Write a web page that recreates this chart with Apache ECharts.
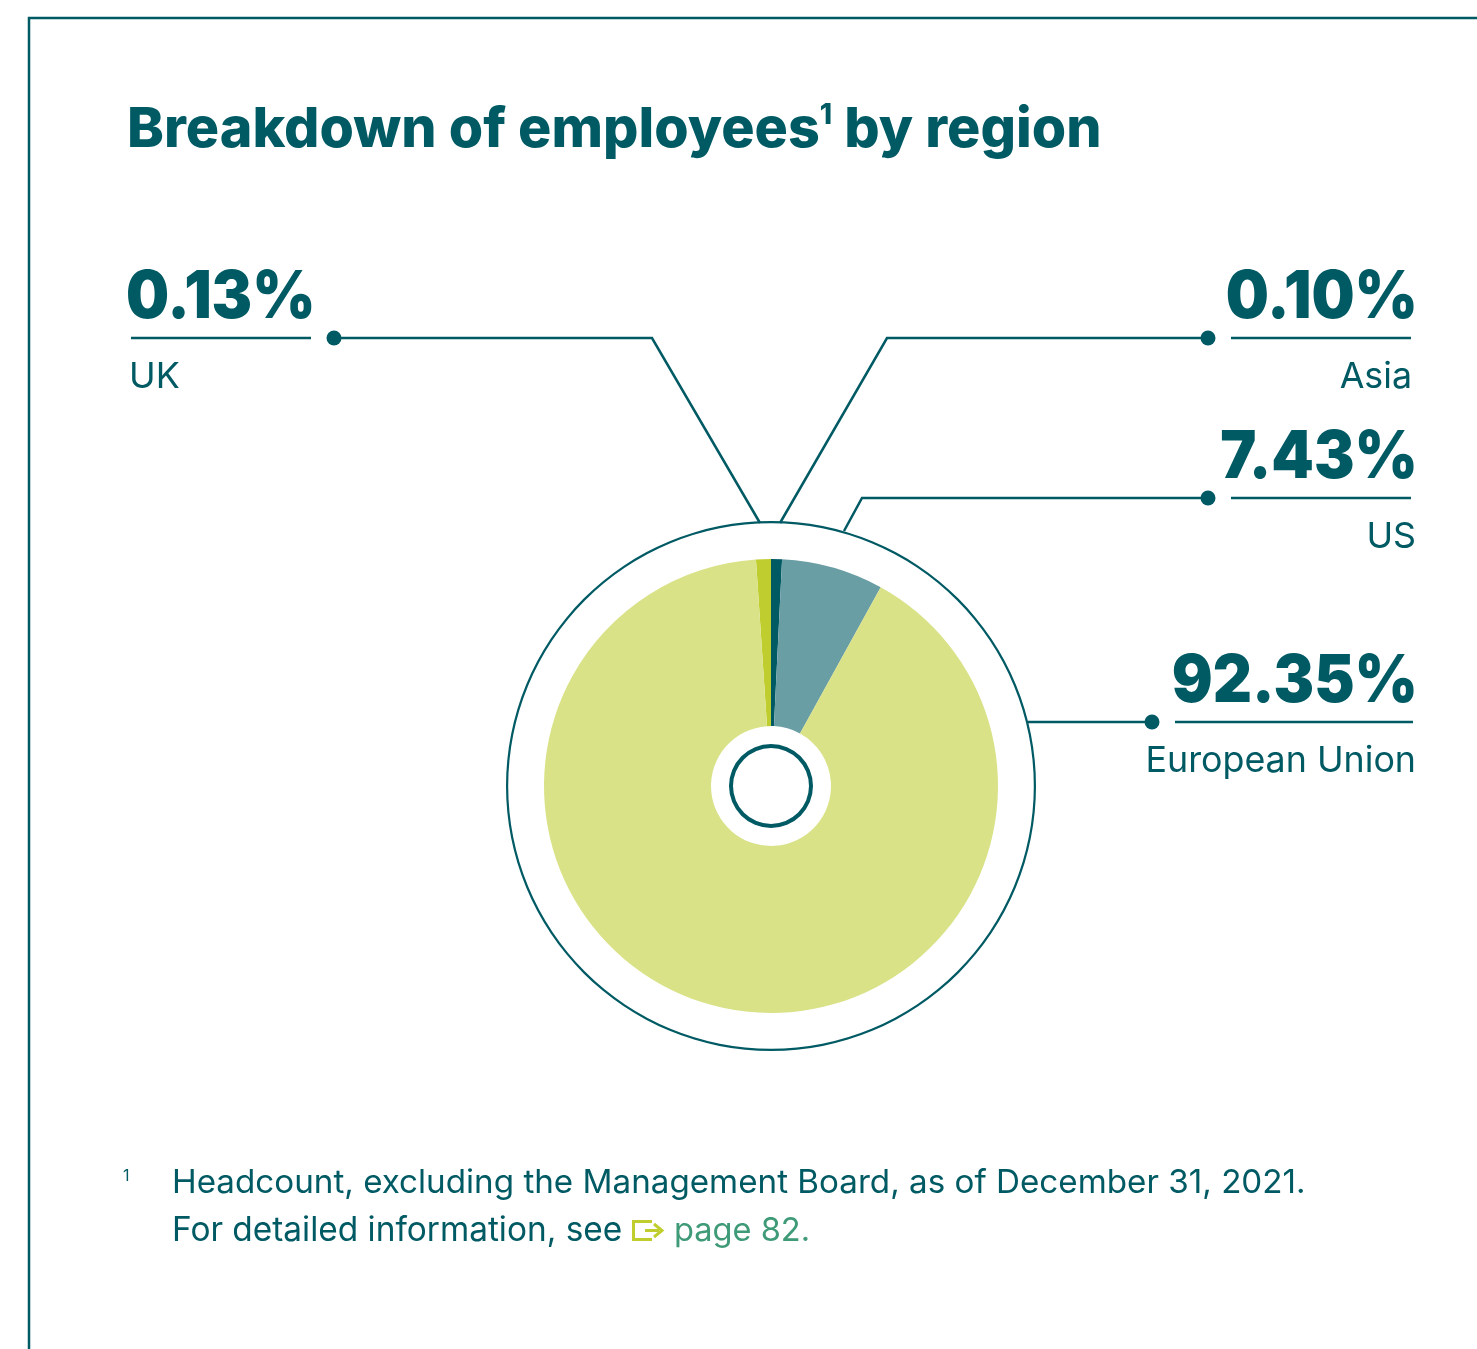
<!DOCTYPE html>
<html>
<head>
<meta charset="utf-8">
<title>Breakdown of employees by region</title>
<script src="https://cdn.jsdelivr.net/npm/echarts@6/dist/echarts.min.js"></script>
<style>
  html, body { margin: 0; padding: 0; background: #fff; }
  #chart { width: 1477px; height: 1349px; }
</style>
</head>
<body>
<div id="chart"></div>
<script>
var regionNames = ['UK', 'Asia', 'US', 'European Union'];
var regionLabels = ['0.13%', '0.10%', '7.43%', '92.35%'];
var sliceDegrees = [3.8, 2.8, 26.1, 327.3];

var dark = '#005a64';
var sliceColors = ['#bfce2e', dark, '#6a9ea5', '#d9e286'];
var font = 'Inter';

var dom = document.getElementById('chart');
var chart = echarts.init(dom, null, { width: 1477, height: 1349 });

function line(points, width, color) {
    return {
        type: 'polyline',
        silent: true,
        shape: { points: points },
        style: { stroke: color || dark, lineWidth: width || 2.5, fill: null }
    };
}
function dot(x, y) {
    return {
        type: 'circle',
        silent: true,
        shape: { cx: x, cy: y, r: 7.5 },
        style: { fill: dark }
    };
}
function text(x, y, str, size, weight, align, color, scaleX) {
    return {
        type: 'text',
        silent: true,
        x: x,
        y: y,
        scaleX: scaleX || 1,
        style: {
            text: str,
            fill: color || dark,
            font: weight + ' ' + size + 'px ' + font,
            textAlign: align || 'left',
            textVerticalAlign: 'middle'
        }
    };
}

// callouts, same order as regionNames
var callouts = [
    { leader: [[334, 338], [652, 338], [760, 523]], rule: [[131, 338], [311, 338]], dot: [334, 338], x: 126, labelX: 129, numY: 298, nameY: 377, align: 'left' },
    { leader: [[1208, 338], [887, 338], [780, 523]], rule: [[1231, 338], [1411, 338]], dot: [1208, 338], x: 1418, labelX: 1412, numY: 298, nameY: 377, align: 'right' },
    { leader: [[1208, 498], [862, 498], [844, 531]], rule: [[1231, 498], [1411, 498]], dot: [1208, 498], x: 1418, labelX: 1416, numY: 458, nameY: 537, align: 'right' },
    { leader: [[1152, 722], [1028, 722]], rule: [[1175, 722], [1413, 722]], dot: [1152, 722], x: 1418, labelX: 1416, numY: 682, nameY: 761, align: 'right' }
];

var elements = [
    // frame
    line([[29, 1349], [29, 18], [1477, 18]], 2.5),
    // footnote
    text(123, 1176, '1', 16, 400),
    text(172, 1183, 'Headcount, excluding the Management Board, as of December 31, 2021.', 33.2, 400),
    text(172, 1231, 'For detailed information, see', 33.4, 400),
    // page arrow
    line([[652, 1221.5], [633.5, 1221.5], [633.5, 1239.5], [652, 1239.5]], 3, '#bfce2e'),
    line([[645, 1230.5], [659, 1230.5]], 3, '#bfce2e'),
    line([[654, 1224], [662, 1230.5], [654, 1237]], 3, '#bfce2e'),
    text(674, 1231, 'page 82.', 32.6, 400, 'left', '#3f9a78')
];

callouts.forEach(function (c, i) {
    elements.push(line(c.leader));
    elements.push(line(c.rule));
    elements.push(dot(c.dot[0], c.dot[1]));
    elements.push(text(c.x, c.numY, regionLabels[i], 66, 900, c.align, dark, 0.92));
    elements.push(text(c.labelX, c.nameY, regionNames[i], 35.8, 400, c.align));
});

var option = {
    animation: false,
    backgroundColor: '#fff',
    title: {
        left: 122,
        top: 97,
        text: 'Breakdown of employees{sup|1} by region',
        textStyle: {
            color: dark,
            fontFamily: font,
            fontWeight: 800,
            fontSize: 55.6,
            rich: {
                sup: { color: dark, fontFamily: font, fontWeight: 800, fontSize: 28, verticalAlign: 'top', padding: [0, 0, 12, 0] }
            }
        }
    },
    tooltip: { show: false },
    series: [
        {
            type: 'pie',
            silent: true,
            center: [771, 786],
            radius: [60, 227],
            startAngle: 93.8,
            clockwise: true,
            label: { show: false },
            labelLine: { show: false },
            data: sliceDegrees.map(function (v, i) {
                return { name: regionNames[i], value: v, itemStyle: { color: sliceColors[i] } };
            })
        },
        {
            // outer ring
            type: 'pie',
            silent: true,
            center: [771, 786],
            radius: [262.8, 265],
            label: { show: false },
            labelLine: { show: false },
            itemStyle: { color: dark },
            data: [{ value: 1 }]
        },
        {
            // inner ring
            type: 'pie',
            silent: true,
            center: [771, 786],
            radius: [38, 42],
            label: { show: false },
            labelLine: { show: false },
            itemStyle: { color: dark },
            data: [{ value: 1 }]
        }
    ],
    graphic: { elements: elements }
};

chart.setOption(option);
</script>
</body>
</html>
